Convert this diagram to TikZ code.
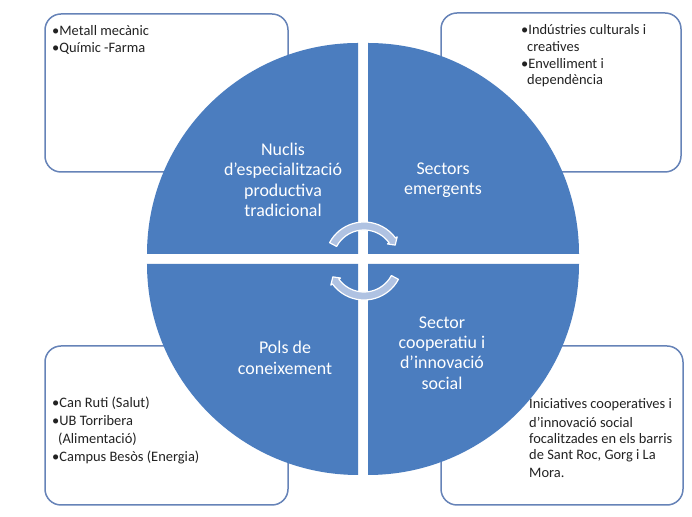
\documentclass[tikz,border=0pt]{standalone}
\usepackage{fontspec}
\setmainfont{Carlito}
\usetikzlibrary{calc}
\definecolor{quadblue}{HTML}{4B7DBF}
\definecolor{boxline}{HTML}{6683B8}
\definecolor{arrowfill}{HTML}{AFC2E2}
\definecolor{boxtext}{HTML}{222222}
\tikzset{
  infobox/.style={draw=boxline, line width=1.5bp, fill=white, rounded corners=16bp},
  quad/.style={fill=quadblue, draw=none},
  quadlabel/.style={text=white, align=center, inner sep=0, font=\fontsize{18}{20.4}\selectfont},
  boxtxt/.style={anchor=west, inner sep=0, text=boxtext, font=\fontsize{14.5}{16}\selectfont},
  cyclearrow/.style={fill=arrowfill, draw=white, line width=1.2bp, line join=round}
}
\begin{document}
\begin{tikzpicture}[x=1bp,y=1bp]
\useasboundingbox (0,0) rectangle (692,517);
\fill[white] (0,0) rectangle (692,517);
% boxes behind the circle
\draw[infobox] (45,345) rectangle (288,503);
\draw[infobox] (441,345) rectangle (681,504);
\draw[infobox] (45,12) rectangle (288,171);
\draw[infobox] (441,12) rectangle (683,171);
% box texts
\node[boxtxt] (tl1) at (52,486) {•Metall mecànic};
\node[boxtxt] (tl2) at (52,469) {•Químic -Farma};
\node[boxtxt] (tr1) at (521,487) {•Indústries culturals i};
\node[boxtxt] (tr2) at (527,470) {creatives};
\node[boxtxt] (tr3) at (521,453) {•Envelliment i};
\node[boxtxt] (tr4) at (527,436) {dependència};
\node[boxtxt] (bl1) at (52,114) {•Can Ruti (Salut)};
\node[boxtxt] (bl2) at (52,96) {•UB Torribera};
\node[boxtxt] (bl3) at (58,78) {(Alimentació)};
\node[boxtxt] (bl4) at (52,60) {•Campus Besòs (Energia)};
\node[boxtxt] (br1) at (529,112) {Iniciatives cooperatives i};
\node[boxtxt] (br2) at (529,95) {d'innovació social};
\node[boxtxt] (br3) at (529,78) {focalitzades en els barris};
\node[boxtxt] (br4) at (529,61) {de Sant Roc, Gorg i La};
\node[boxtxt] (br5) at (529,44) {Mora.};
% quadrants
\fill[quad] (358,263) -- ++(-211,0) arc[start angle=180, end angle=90, radius=211bp] -- cycle;
\fill[quad] (368,263) -- ++(0,211) arc[start angle=90, end angle=0, radius=211bp] -- cycle;
\fill[quad] (358,253) -- ++(0,-211) arc[start angle=270, end angle=180, radius=211bp] -- cycle;
\fill[quad] (368,253) -- ++(211,0) arc[start angle=0, end angle=-90, radius=211bp] -- cycle;
% quadrant labels
\node[quadlabel] (qtl) at (283,337) {Nuclis\\d'especialització\\productiva\\tradicional};
\node[quadlabel] (qtr) at (443,337) {Sectors\\emergents};
\node[quadlabel] (qbl) at (285,159) {Pols de\\coneixement};
\node[quadlabel] (qbr) at (442,164) {Sector\\cooperatiu i\\d'innovació\\social};
% central cycle arrows
\coordinate (c) at (364,256);
\draw[cyclearrow] ($(c)+(152:39bp)$) arc[start angle=152, end angle=36, radius=39bp]
  -- ($(c)+(36:41bp)$) -- ($(c)+(27:35bp)$) -- ($(c)+(36:29bp)$) -- ($(c)+(36:31bp)$)
  arc[start angle=36, end angle=152, radius=31bp] -- cycle;
\draw[cyclearrow] ($(c)+(332:39bp)$) arc[start angle=332, end angle=216, radius=39bp]
  -- ($(c)+(216:41bp)$) -- ($(c)+(207:35bp)$) -- ($(c)+(216:29bp)$) -- ($(c)+(216:31bp)$)
  arc[start angle=216, end angle=332, radius=31bp] -- cycle;
\end{tikzpicture}
\end{document}
